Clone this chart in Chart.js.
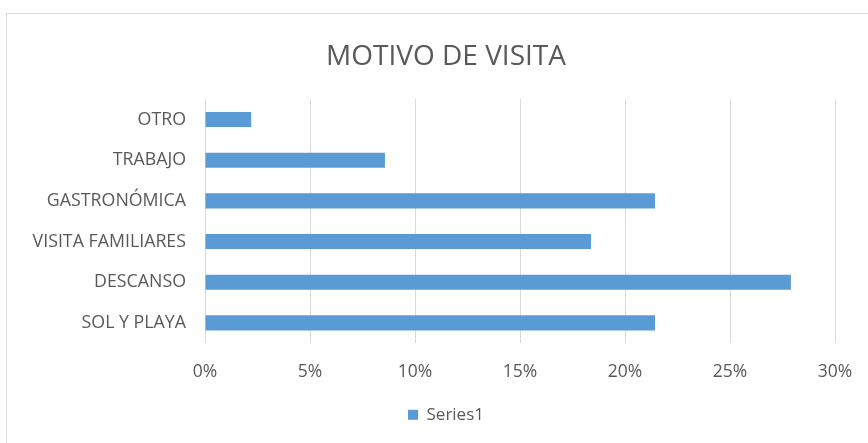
<!DOCTYPE html>
<html>
<head>
<meta charset="utf-8">
<script src="https://cdn.jsdelivr.net/npm/chart.js@4/dist/chart.umd.min.js"></script>
<style>
  html, body { margin: 0; padding: 0; background: #ffffff; overflow: hidden; width: 868px; height: 443px; }
  #box { position: absolute; left: 6px; top: 13px; width: 878px; height: 440px; border: 1px solid #d9d9d9; background: #fff; }
  canvas { display: block; }
</style>
</head>
<body>
<div id="box"><canvas id="c" width="878" height="430"></canvas></div>
<script>
const categories = ['OTRO', 'TRABAJO', 'GASTRONÓMICA', 'VISITA FAMILIARES', 'DESCANSO', 'SOL Y PLAYA'];
const series1 = [2.2, 8.57, 21.43, 18.38, 27.9, 21.43];
const seriesName = 'Series1';
const chartTitle = 'MOTIVO DE VISITA';
const axisMin = 0, axisMax = 30, axisStep = 5;

const textColor = '#595959';
const font = 'Open Sans';

new Chart(document.getElementById('c'), {
  type: 'bar',
  data: {
    labels: categories,
    datasets: [{
      label: seriesName,
      data: series1,
      backgroundColor: '#5b9bd5',
      borderWidth: 0,
      categoryPercentage: 1,
      barPercentage: 0.37
    }]
  },
  options: {
    indexAxis: 'y',
    responsive: false,
    animation: false,
    devicePixelRatio: 1,
    layout: { padding: { left: 0, right: 0, top: 0, bottom: 10.8 } },
    plugins: {
      title: {
        display: true,
        text: chartTitle,
        color: textColor,
        font: { family: font, size: 28, weight: 'normal' },
        padding: { top: 26.2, bottom: 25.4 }
      },
      legend: {
        display: true,
        position: 'bottom',
        labels: {
          color: textColor,
          font: { family: font, size: 17 },
          boxWidth: 10,
          boxHeight: 10,
          padding: 10
        }
      },
      tooltip: { enabled: false }
    },
    scales: {
      x: {
        min: axisMin,
        max: axisMax,
        ticks: {
          stepSize: axisStep,
          color: textColor,
          font: { family: font, size: 17.5 },
          padding: 18,
          callback: v => v + '%'
        },
        grid: { color: '#d9d9d9', lineWidth: 1, drawTicks: false },
        border: { display: false },
        afterFit: s => { s.height = 53; }
      },
      y: {
        ticks: {
          color: textColor,
          font: { family: font, size: 17.8 },
          padding: 19
        },
        grid: { display: false, drawTicks: false },
        border: { display: false },
        afterFit: s => { s.width = 198; }
      },
      yRight: {
        type: 'category',
        position: 'right',
        display: true,
        ticks: { display: false },
        grid: { display: false, drawTicks: false },
        border: { display: false },
        afterFit: s => { s.width = 50; }
      }
    }
  }
});
</script>
</body>
</html>
